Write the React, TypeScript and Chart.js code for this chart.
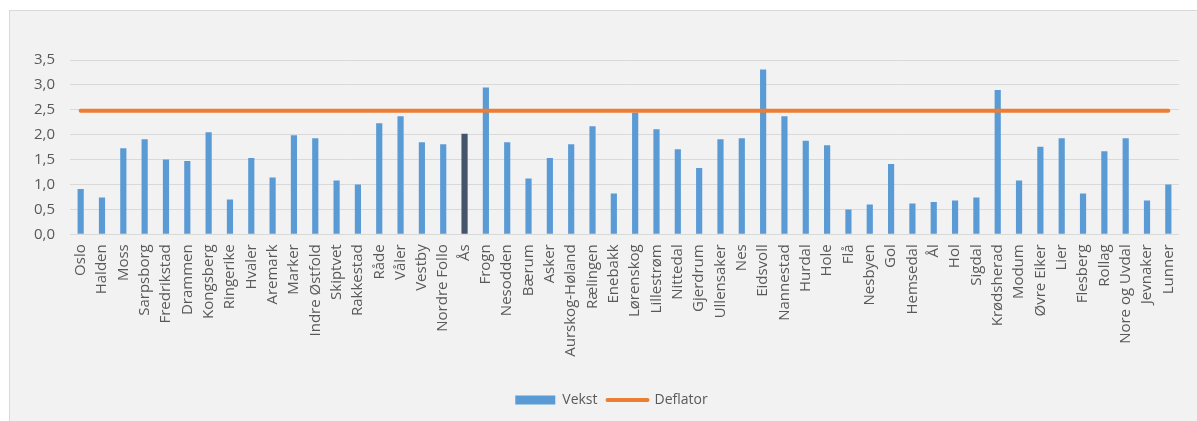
import { useEffect, useRef } from "react";
import { Chart, registerables } from "chart.js";

Chart.register(...registerables);

const CATEGORIES = [
  "Oslo", "Halden", "Moss", "Sarpsborg", "Fredrikstad", "Drammen", "Kongsberg",
  "Ringerike", "Hvaler", "Aremark", "Marker", "Indre Østfold", "Skiptvet",
  "Rakkestad", "Råde", "Våler", "Vestby", "Nordre Follo", "Ås", "Frogn",
  "Nesodden", "Bærum", "Asker", "Aurskog-Høland", "Rælingen", "Enebakk",
  "Lørenskog", "Lillestrøm", "Nittedal", "Gjerdrum", "Ullensaker", "Nes",
  "Eidsvoll", "Nannestad", "Hurdal", "Hole", "Flå", "Nesbyen", "Gol",
  "Hemsedal", "Ål", "Hol", "Sigdal", "Krødsherad", "Modum", "Øvre Eiker",
  "Lier", "Flesberg", "Rollag", "Nore og Uvdal", "Jevnaker", "Lunner",
];

const VEKST = [
  0.91, 0.74, 1.73, 1.91, 1.50, 1.47, 2.05,
  0.70, 1.53, 1.14, 1.99, 1.93, 1.08,
  1.00, 2.23, 2.37, 1.85, 1.81, 2.02, 2.95,
  1.85, 1.12, 1.53, 1.81, 2.17, 0.82,
  2.44, 2.11, 1.71, 1.33, 1.91, 1.93,
  3.31, 2.37, 1.88, 1.79, 0.50, 0.60, 1.41,
  0.62, 0.65, 0.68, 0.74, 2.90, 1.08, 1.76,
  1.93, 0.82, 1.67, 1.93, 0.68, 1.00,
];

const DEFLATOR = [
  2.48, 2.48, 2.48, 2.48, 2.48, 2.48, 2.48,
  2.48, 2.48, 2.48, 2.48, 2.48, 2.48,
  2.48, 2.48, 2.48, 2.48, 2.48, 2.48, 2.48,
  2.48, 2.48, 2.48, 2.48, 2.48, 2.48,
  2.48, 2.48, 2.48, 2.48, 2.48, 2.48,
  2.48, 2.48, 2.48, 2.48, 2.48, 2.48, 2.48,
  2.48, 2.48, 2.48, 2.48, 2.48, 2.48, 2.48,
  2.48, 2.48, 2.48, 2.48, 2.48, 2.48,
];

const SERIES_NAMES = ["Vekst", "Deflator"];
const HIGHLIGHT = "Ås";
const Y_MIN = 0;
const Y_MAX = 3.5;
const Y_STEP = 0.5;

const BLUE = "#5B9BD5";
const DARK = "#44546A";
const ORANGE = "#ED7D31";
const TEXT = "#595959";
const GRID = "#D9D9D9";
const FONT = "'Open Sans', sans-serif";

const legendShift = {
  id: "legendShift",
  afterLayout(chart: any) {
    if (chart.legend) {
      chart.legend.left += 34;
    }
  },
};

export default function App() {
  const canvasRef = useRef<HTMLCanvasElement | null>(null);

  useEffect(() => {
    const canvas = canvasRef.current;
    if (!canvas) return;
    const chart = new Chart(canvas, {
      type: "bar",
      data: {
        labels: CATEGORIES,
        datasets: [
          {
            type: "bar",
            label: SERIES_NAMES[0],
            data: VEKST,
            backgroundColor: CATEGORIES.map((c) => (c === HIGHLIGHT ? DARK : BLUE)),
            borderWidth: 0,
            categoryPercentage: 1,
            barPercentage: 0.29,
            order: 1,
            pointStyle: "rect",
          } as any,
          {
            type: "line",
            label: SERIES_NAMES[1],
            data: DEFLATOR,
            borderColor: ORANGE,
            backgroundColor: ORANGE,
            borderWidth: 4,
            borderCapStyle: "round",
            pointRadius: 0,
            pointStyle: "line",
            order: 0,
          } as any,
        ],
      },
      options: {
        animation: false,
        responsive: false,
        devicePixelRatio: 1,
        layout: { padding: { left: 0, right: 18, top: 49, bottom: 4 } },
        plugins: {
          tooltip: { enabled: false },
          legend: {
            display: true,
            position: "bottom",
            labels: {
              usePointStyle: true,
              pointStyleWidth: 40,
              boxHeight: 9,
              padding: 10,
              color: TEXT,
              font: { family: FONT, size: 14 },
              sort: (a: any, b: any) => a.datasetIndex - b.datasetIndex,
              generateLabels: (ch: any) => {
                const items = Chart.defaults.plugins.legend.labels.generateLabels(ch);
                return items.map((it: any) => {
                  if (it.datasetIndex === 0) {
                    return { ...it, pointStyle: "rect", fillStyle: BLUE, lineWidth: 0 };
                  }
                  return { ...it, pointStyle: "line", strokeStyle: ORANGE, lineWidth: 4, lineCap: "round" };
                });
              },
            },
          },
        },
        scales: {
          x: {
            grid: { display: false, drawTicks: false },
            border: { display: false },
            ticks: {
              autoSkip: false,
              minRotation: 90,
              maxRotation: 90,
              padding: 10,
              color: TEXT,
              font: { family: FONT, size: 15 },
            },
            afterFit: (scale: any) => {
              scale.height = 148.7;
            },
          },
          y: {
            min: Y_MIN,
            max: Y_MAX,
            grid: { color: GRID, lineWidth: 1, drawTicks: false },
            border: { display: false },
            ticks: {
              stepSize: Y_STEP,
              padding: 15,
              color: TEXT,
              font: { family: FONT, size: 15 },
              callback: (v: any) => Number(v).toFixed(1).replace(".", ","),
            },
            afterFit: (scale: any) => {
              scale.width = 60;
            },
          },
        },
      },
      plugins: [legendShift],
    });
    return () => chart.destroy();
  }, []);

  return (
    <div style={{ position: "absolute", left: 0, top: 0, width: 1197, height: 421, background: "#ffffff", overflow: "hidden" }}>
      <div
        style={{
          position: "absolute",
          left: 9,
          top: 10,
          width: 1188,
          height: 411,
          boxSizing: "border-box",
          background: "#F2F2F2",
          borderLeft: "1px solid #D9D9D9",
          borderTop: "1px solid #D9D9D9",
        }}
      >
        <canvas ref={canvasRef} width={1187} height={410} style={{ position: "absolute", left: 0, top: 0, width: 1187, height: 410 }} />
      </div>
    </div>
  );
}
